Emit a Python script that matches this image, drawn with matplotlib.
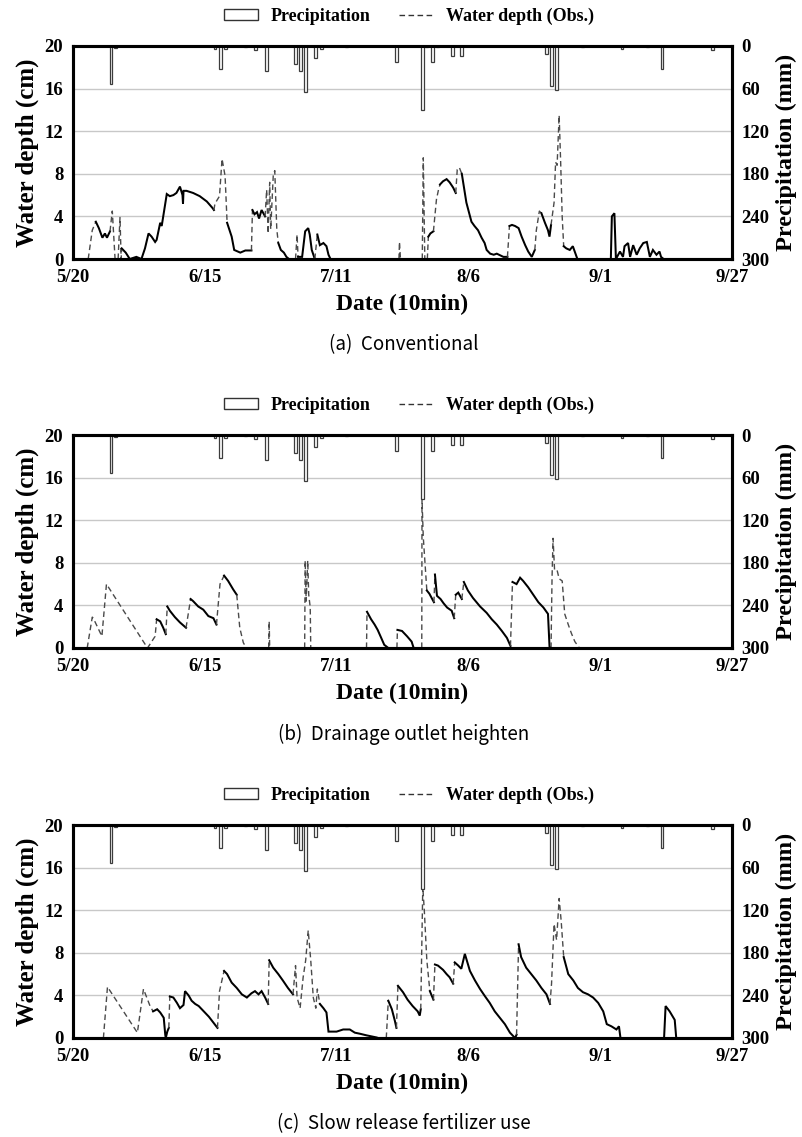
import matplotlib
matplotlib.use("Agg")
import matplotlib.pyplot as plt
from matplotlib.patches import Patch
from matplotlib.lines import Line2D

# ---- x axis: days since 20 May (10-min series, summarised) ----
date_ticks = [0, 26, 52, 78, 104, 130]
date_labels = ["5/20", "6/15", "7/11", "8/6", "9/1", "9/27"]

# ---- precipitation events (day, mm) shared by all plots ----
rain_day = [7.5, 8.4, 28.0, 29.1, 30.1, 34.1, 36.0, 38.1, 43.9, 44.9, 45.9, 47.9,
            49.0, 54.0, 63.8, 68.9, 69.8, 70.9, 71.9, 74.8, 76.6, 93.4, 94.4, 95.4,
            100.5, 108.3, 113.4, 116.2, 126.2]
rain_mm = [54, 3, 4, 33, 4, 2, 6, 35, 26, 35, 65, 17,
           4, 2, 23, 90, 2, 23, 2, 14, 14, 11, 56, 62,
           2, 4, 2, 32, 6]

# ---- water depth: day, depth (cm), obs flag for the segment that follows
#      (1 = observed -> solid, 0 = gap -> dashed) ----
a_day = [0, 3.0, 3.8, 4.5, 5.1, 5.8, 6.3, 6.7, 7.3, 7.75, 8.3, 8.9, 9.27, 9.5, 9.6,
         10.4, 11.2, 12.5, 13.5, 14.2, 14.9, 15.5, 16.2, 16.5, 17.2, 17.5, 18.5, 19.1,
         19.8, 20.4, 21.1, 21.6, 21.7, 21.8, 22.4, 23.7, 25.0, 26.4, 27.5, 27.8, 28.0,
         28.9, 29.4, 30.0, 30.4, 31.3, 31.8, 33.0, 34.0, 35.2, 35.4, 35.8, 36.3, 36.7,
         37.2, 37.9, 38.2, 38.5, 38.8, 39.0, 39.5, 39.8, 40.2, 40.5, 41.0, 41.6, 42.1,
         42.6, 43.9, 44.2, 44.4, 45.2, 45.8, 46.4, 46.7, 47.1, 47.7, 48.2, 48.7, 49.4,
         50.0, 50.4, 50.8, 64.3, 64.4, 64.6, 68.9, 69.1, 69.4, 69.9, 70.1, 70.5, 71.1,
         71.7, 72.1, 72.4, 73.0, 73.7, 74.3, 75.0, 75.5, 75.8, 76.2, 76.7, 77.6, 78.6,
         79.2, 79.9, 80.6, 81.2, 81.6, 82.3, 83.0, 83.6, 84.9, 85.7, 86.1, 86.6, 87.2,
         87.9, 88.5, 89.2, 89.8, 90.5, 91.1, 91.4, 92.0, 92.4, 93.1, 93.7, 94.0, 94.3,
         94.9, 95.2, 95.5, 95.9, 96.2, 96.5, 96.8, 97.3, 98.0, 98.6, 99.2, 99.5, 106.1,
         106.3, 106.8, 107.1, 107.9, 108.5, 108.8, 109.5, 109.9, 110.5, 111.2, 111.8,
         112.5, 113.2, 113.8, 114.4, 115.1, 115.7, 116.0, 116.5, 130]
a_depth = [0, 0, 2.7, 3.5, 2.9, 2.0, 2.4, 2.0, 2.6, 4.5, 0, 0, 3.9, 0, 1.0,
           0.6, 0, 0.2, 0, 1.0, 2.4, 2.1, 1.6, 1.8, 3.4, 3.1, 6.1, 5.9,
           6.0, 6.2, 6.8, 6.0, 5.2, 6.4, 6.4, 6.2, 5.9, 5.4, 4.8, 4.6, 5.2,
           5.9, 9.4, 7.8, 3.4, 2.1, 0.85, 0.6, 0.8, 0.8, 4.6, 4.2, 4.4, 3.8,
           4.6, 4.0, 6.5, 2.4, 7.2, 2.8, 7.8, 8.3, 2.8, 1.5, 0.85, 0.6, 0.2,
           0, 0, 2.3, 0.2, 0.2, 2.6, 2.9, 2.3, 0.85, 0, 2.3, 1.3, 1.5,
           1.2, 0.4, 0, 0, 1.6, 0, 0, 9.5, 0, 0, 2.1, 2.4, 2.6,
           5.6, 6.5, 7.0, 7.3, 7.5, 7.2, 6.7, 6.2, 8.4, 8.6, 8.0, 5.3, 3.5,
           3.1, 2.7, 2.0, 1.5, 0.85, 0.5, 0.4, 0.5, 0.2, 0.2, 3.1, 3.2, 3.1,
           2.9, 2.1, 1.3, 0.7, 0.2, 0.85, 2.7, 4.5, 4.3, 3.4, 2.7, 2.1, 3.2,
           5.3, 9.1, 8.8, 13.5, 9.1, 4.0, 1.2, 1.0, 0.85, 1.2, 0.4, 0, 0,
           4.0, 4.3, 0, 0.7, 0.2, 1.2, 1.5, 0.2, 1.3, 0.4, 1.0,
           1.5, 1.6, 0.2, 0.85, 0.4, 0.7, 0.2, 0, 0]
a_obs = [1, 0, 0, 1, 1, 1, 1, 1, 0, 0, 1, 0, 0, 0, 1,
         1, 1, 1, 1, 1, 1, 1, 1, 1, 1, 1, 1, 1,
         1, 1, 1, 1, 1, 1, 1, 1, 1, 1, 1, 0, 0,
         0, 0, 0, 1, 1, 1, 1, 1, 0, 1, 1, 1, 1,
         1, 0, 0, 0, 0, 0, 0, 0, 0, 1, 1, 1, 1,
         1, 0, 0, 1, 1, 1, 1, 1, 1, 0, 1, 1, 1,
         1, 1, 1, 0, 0, 1, 0, 0, 1, 0, 1, 1, 0,
         0, 0, 1, 1, 1, 1, 1, 0, 0, 0, 1, 1, 1,
         1, 1, 1, 1, 1, 1, 1, 1, 1, 0, 1, 1, 1,
         1, 1, 1, 1, 1, 0, 0, 0, 1, 1, 1, 1, 0,
         0, 0, 0, 0, 0, 0, 1, 1, 1, 1, 1, 1, 1,
         1, 1, 1, 1, 1, 1, 1, 1, 1, 1, 1,
         1, 1, 1, 1, 1, 1, 1, 1, 1]

b_day = [0, 2.8, 3.8, 4.0, 5.7, 6.6, 14.7, 16.2, 16.5, 17.2, 17.8, 18.3, 18.6, 19.1,
         20.1, 21.1, 22.3, 23.2, 23.7, 24.7, 25.7, 26.7, 27.7, 28.3, 29.0, 29.8, 30.6,
         31.6, 32.3, 32.9, 33.6, 34.2, 38.6, 38.7, 38.8, 45.7, 45.8, 46.0, 46.3, 46.5,
         46.8, 46.9, 57.9, 58.0, 58.8, 59.5, 60.1, 60.8, 61.4, 62.2, 63.9, 64.0, 64.9,
         65.9, 66.8, 67.2, 68.8, 68.85, 69.1, 69.8, 70.3, 71.2, 71.4, 71.8, 72.5, 73.1,
         73.8, 74.7, 75.2, 75.5, 76.0, 76.7, 77.1, 77.9, 78.9, 80.3, 81.6, 82.6, 83.6,
         84.6, 85.6, 86.3, 86.7, 87.5, 88.2, 88.8, 89.8, 90.8, 91.8, 92.8, 93.7, 94.0,
         94.3, 94.5, 94.7, 95.0, 95.5, 95.9, 96.5, 97.0, 97.7, 98.3, 99.0, 99.9, 130]
b_depth = [0, 0, 2.9, 2.8, 1.1, 6.0, 0, 1.1, 2.7, 2.5, 1.9, 1.3, 3.9, 3.5,
           2.9, 2.4, 1.9, 4.6, 4.4, 3.9, 3.6, 3.0, 2.8, 2.2, 6.0, 6.8, 6.3,
           5.5, 5.0, 1.9, 0.5, 0, 0, 2.5, 0, 0, 8.2, 4.4, 8.2, 5.0,
           3.8, 0, 0, 3.4, 2.7, 2.2, 1.7, 0.95, 0.3, 0, 0, 1.7, 1.6,
           1.1, 0.6, 0, 0, 14.0, 10.4, 5.4, 5.1, 4.3, 6.9, 4.9, 4.6, 4.2,
           3.8, 3.5, 2.8, 5.0, 5.2, 4.6, 6.2, 5.4, 4.7, 3.9, 3.3, 2.7, 2.2,
           1.6, 0.95, 0.2, 6.2, 6.0, 6.6, 6.3, 5.7, 5.0, 4.3, 3.8, 3.2, 0.15,
           0, 6.6, 10.3, 7.3, 7.3, 6.5, 6.3, 3.2, 2.2, 1.4, 0.6, 0, 0]
b_obs = [1, 0, 0, 0, 0, 0, 0, 0, 1, 1, 1, 0, 1, 1,
         1, 1, 0, 1, 1, 1, 1, 1, 1, 0, 0, 1, 1,
         1, 0, 0, 0, 1, 0, 0, 1, 0, 0, 0, 0, 0,
         0, 1, 0, 1, 1, 1, 1, 1, 1, 1, 0, 1, 1,
         1, 1, 1, 0, 0, 0, 1, 1, 0, 1, 1, 1, 1,
         1, 1, 0, 1, 1, 0, 1, 1, 1, 1, 1, 1, 1,
         1, 1, 0, 1, 1, 1, 1, 1, 1, 1, 1, 1, 1,
         0, 0, 0, 0, 0, 0, 0, 0, 0, 0, 0, 1, 1]

c_day = [0, 6.0, 6.8, 12.7, 13.9, 15.2, 15.8, 16.6, 17.2, 17.9, 18.2, 18.3, 18.6, 18.9,
         19.1, 19.8, 20.5, 21.1, 21.8, 22.1, 22.8, 23.4, 24.1, 24.8, 25.8, 26.8, 28.5,
         28.9, 29.8, 30.4, 31.3, 32.3, 33.3, 34.3, 35.2, 35.9, 36.6, 37.2, 37.9, 38.5,
         38.7, 39.5, 40.5, 41.4, 42.4, 43.4, 43.9, 44.2, 44.8, 45.4, 45.9, 46.4, 46.9,
         47.4, 47.9, 48.2, 48.7, 49.4, 50.0, 50.4, 51.0, 52.0, 53.3, 54.6, 55.6, 56.6,
         57.9, 58.9, 59.9, 60.2, 61.8, 62.2, 62.9, 63.5, 63.8, 64.1, 65.1, 66.0, 67.0,
         68.0, 68.4, 68.6, 69.0, 69.3, 69.8, 70.4, 71.1, 71.4, 72.0, 73.0, 73.7, 74.3,
         75.0, 75.3, 76.0, 76.6, 77.3, 78.3, 79.3, 80.3, 81.3, 82.2, 83.2, 84.2, 85.2,
         86.2, 87.2, 87.5, 87.9, 88.4, 89.4, 90.4, 91.4, 92.4, 93.4, 94.1, 94.4, 94.9,
         95.4, 95.9, 96.3, 96.8, 97.7, 98.7, 99.6, 100.6, 101.6, 102.6, 103.6, 104.6,
         105.3, 106.2, 107.2, 107.7, 108.0, 116.6, 116.9, 117.7, 118.7, 119.0, 130]
c_depth = [0, 0, 4.8, 0.5, 4.6, 3.0, 2.5, 2.7, 2.4, 1.9, 0.3, 0, 0.6, 0.95,
           3.9, 3.8, 3.3, 2.8, 3.1, 4.4, 4.0, 3.5, 3.2, 3.0, 2.5, 2.0, 0.95,
           4.4, 6.3, 6.0, 5.2, 4.7, 4.1, 3.8, 4.2, 4.4, 4.1, 4.4, 3.8, 3.2,
           7.3, 6.6, 6.0, 5.4, 4.7, 4.1, 6.8, 3.8, 2.8, 5.7, 7.3, 10.1, 7.3,
           3.8, 2.8, 4.6, 3.2, 2.8, 2.4, 0.6, 0.6, 0.6, 0.8, 0.8, 0.5, 0.4,
           0.25, 0.15, 0.05, 0, 0, 3.5, 2.7, 1.6, 0.95, 4.9, 4.3, 3.6, 3.0,
           2.5, 2.1, 2.7, 14.2, 12.0, 7.3, 4.4, 3.6, 6.9, 6.8, 6.4, 6.0, 5.7,
           5.1, 7.1, 6.8, 6.5, 7.9, 6.3, 5.4, 4.6, 3.9, 3.3, 2.5, 1.9, 1.3,
           0.5, 0, 0.3, 8.8, 7.6, 6.6, 6.0, 5.4, 4.7, 4.1, 3.2, 5.1, 10.7,
           9.2, 13.1, 11.0, 7.6, 6.0, 5.4, 4.7, 4.3, 4.1, 3.8, 3.3, 2.5,
           1.3, 1.1, 0.8, 1.1, 0, 0, 3.0, 2.5, 1.7, 0, 0]
c_obs = [1, 0, 0, 0, 0, 0, 1, 1, 1, 1, 1, 1, 1, 0,
         1, 1, 1, 1, 1, 1, 1, 1, 1, 1, 1, 1, 0,
         0, 1, 1, 1, 1, 1, 1, 1, 1, 1, 1, 1, 0,
         1, 1, 1, 1, 1, 0, 0, 0, 0, 0, 0, 0, 0,
         0, 0, 0, 1, 1, 1, 1, 1, 1, 1, 1, 1, 1,
         1, 1, 1, 1, 0, 1, 1, 1, 0, 1, 1, 1, 1,
         1, 1, 0, 0, 0, 0, 1, 0, 1, 1, 1, 1, 1,
         0, 1, 1, 1, 1, 1, 1, 1, 1, 1, 1, 1, 1,
         1, 1, 0, 1, 1, 1, 1, 1, 1, 1, 0, 0, 0,
         0, 0, 0, 1, 1, 1, 1, 1, 1, 1, 1, 1,
         1, 1, 1, 1, 1, 1, 1, 1, 1, 1, 1]

captions = ["(a)  Conventional", "(b)  Drainage outlet heighten",
            "(c)  Slow release fertilizer use"]

SERIF = "Liberation Serif"
fig = plt.figure(figsize=(8.03, 11.37), dpi=100)

panel_bottoms = [1 - 259 / 1137, 1 - 648 / 1137, 1 - 1038 / 1137]
ax_left, ax_w, ax_h = 73 / 803, 659 / 803, 213 / 1137


def draw_depth(ax, day, depth, obs):
    """Split the series into runs of observed (solid) and gap (dashed) segments."""
    start = 0
    n = len(day)
    for i in range(1, n):
        end_run = (i == n - 1) or (obs[i] != obs[start])
        if end_run:
            xs, ys = day[start:i + 1], depth[start:i + 1]
            if obs[start]:
                ax.plot(xs, ys, color="black", lw=1.45, solid_joinstyle="miter", zorder=3)
            else:
                ax.plot(xs, ys, color="#4a4a4a", lw=1.0, dashes=(4, 2.5), zorder=3)
            start = i


series = [(a_day, a_depth, a_obs), (b_day, b_depth, b_obs), (c_day, c_depth, c_obs)]

for k, (dd, dep, ob) in enumerate(series):
    ax = fig.add_axes([ax_left, panel_bottoms[k], ax_w, ax_h])
    ax.set_axisbelow(True)
    ax.set_xlim(0, 130)
    ax.set_ylim(0, 20)
    ax.set_yticks([0, 4, 8, 12, 16, 20])
    ax.set_xticks(date_ticks)
    ax.set_xticklabels(date_labels)
    ax.yaxis.grid(True, color="#c8c8c8", lw=1.0)
    draw_depth(ax, dd, dep, ob)

    ax2 = ax.twinx()
    ax2.bar(rain_day, rain_mm, width=0.55, color="white", edgecolor="#3c3c3c",
            lw=0.9, zorder=2)
    ax2.set_ylim(300, 0)
    ax2.set_yticks([0, 60, 120, 180, 240, 300])

    for a in (ax, ax2):
        for s in a.spines.values():
            s.set_linewidth(2.2)
            s.set_color("black")
        a.tick_params(length=0, labelsize=13.5, pad=7)
        for lab in a.get_xticklabels() + a.get_yticklabels():
            lab.set_fontfamily(SERIF)
            lab.set_fontweight("bold")

    ax.set_ylabel("Water depth (cm)", fontsize=18, fontweight="bold",
                  fontfamily=SERIF, labelpad=4)
    ax2.set_ylabel("Precipitation (mm)", fontsize=17.5, fontweight="bold",
                   fontfamily=SERIF, labelpad=4)
    ax.set_xlabel("Date (10min)", fontsize=17, fontweight="bold",
                  fontfamily=SERIF, labelpad=6)

    handles = [Patch(facecolor="white", edgecolor="#333333", lw=1.0),
               Line2D([0], [0], color="#333333", lw=1.0, dashes=(4, 2.5))]
    ax2.legend(handles, ["Precipitation", "Water depth (Obs.)"], ncol=2,
               loc="center", bbox_to_anchor=(0.51, 1.14), frameon=False,
               prop={"family": SERIF, "weight": "bold", "size": 13},
               handlelength=1.9, handletextpad=0.7, columnspacing=1.6,
               handleheight=0.5)

    fig.text(0.503, panel_bottoms[k] - 86 / 1137, captions[k], ha="center",
             va="center", fontsize=13.5, family=["Noto Sans CJK KR", "DejaVu Sans"])

fig.savefig("out.png", dpi=100)
